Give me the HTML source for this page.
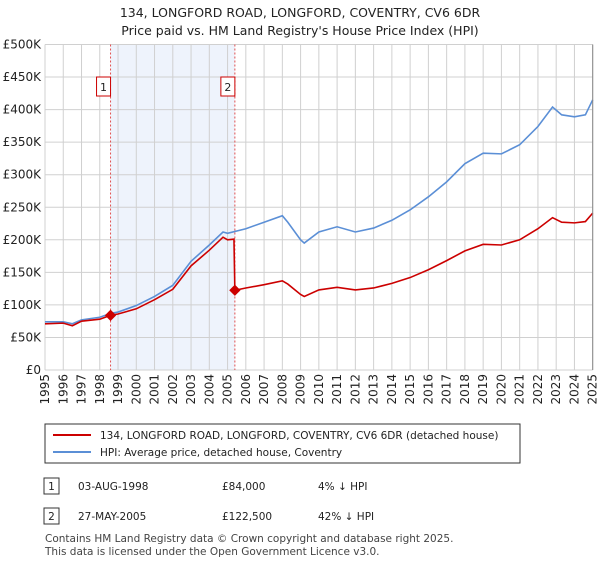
<!DOCTYPE html>
<html><head><meta charset="utf-8"><style>
body{margin:0;background:#fff;font-family:"Liberation Sans","DejaVu Sans",sans-serif;}
svg text{font-family:"DejaVu Sans","Liberation Sans",sans-serif;}
</style></head><body>
<svg id="chart" width="600" height="560" xmlns="http://www.w3.org/2000/svg">
<text x="300" y="17" text-anchor="middle" font-size="12.5" fill="#222">134, LONGFORD ROAD, LONGFORD, COVENTRY, CV6 6DR</text>
<text x="300" y="35" text-anchor="middle" font-size="12.5" fill="#222">Price paid vs. HM Land Registry's House Price Index (HPI)</text>
<g id="plot"></g>
<g>
<rect x="45" y="424" width="475" height="39" fill="#fff" stroke="#333" stroke-width="1"/>
<line x1="53" y1="435" x2="91" y2="435" stroke="#cc0000" stroke-width="2"/>
<text x="100" y="439" font-size="10.5" fill="#222">134, LONGFORD ROAD, LONGFORD, COVENTRY, CV6 6DR (detached house)</text>
<line x1="53" y1="452" x2="91" y2="452" stroke="#5b8fd6" stroke-width="2"/>
<text x="100" y="456" font-size="10.5" fill="#222">HPI: Average price, detached house, Coventry</text>
</g>
<g font-size="10.5" fill="#222">
<rect x="44" y="478" width="15" height="16" fill="#fff" stroke="#333"/>
<text x="51.5" y="490" text-anchor="middle">1</text>
<text x="78" y="490">03-AUG-1998</text><text x="222" y="490">£84,000</text><text x="318" y="490">4% ↓ HPI</text>
<rect x="44" y="508" width="15" height="16" fill="#fff" stroke="#333"/>
<text x="51.5" y="520" text-anchor="middle">2</text>
<text x="78" y="520">27-MAY-2005</text><text x="222" y="520">£122,500</text><text x="318" y="520">42% ↓ HPI</text>
</g>
<text x="45" y="542" font-size="10.5" fill="#444">Contains HM Land Registry data © Crown copyright and database right 2025.</text>
<text x="45" y="555" font-size="10.5" fill="#444">This data is licensed under the Open Government Licence v3.0.</text>
</svg>
<script>
const yTicks=[0,50000,100000,150000,200000,250000,300000,350000,400000,450000,500000];
const yTickLabels=["£0","£50K","£100K","£150K","£200K","£250K","£300K","£350K","£400K","£450K","£500K"];
const xYears=[1995,1996,1997,1998,1999,2000,2001,2002,2003,2004,2005,2006,2007,2008,2009,2010,2011,2012,2013,2014,2015,2016,2017,2018,2019,2020,2021,2022,2023,2024,2025];
const hpiDates=[1995,1996,1996.5,1997,1998,1998.6,1999,2000,2001,2002,2003,2004,2004.75,2005,2006,2007,2008,2008.3,2009,2009.2,2010,2011,2012,2013,2014,2015,2016,2017,2018,2019,2020,2021,2022,2022.8,2023.3,2024,2024.6,2025];
const hpiValues=[74000,74000,71000,77000,81000,87000,89000,99000,113000,130000,167000,192000,212000,210000,217000,227000,237000,227000,200000,195000,212000,220000,212000,218000,230000,246000,266000,289000,317000,333000,332000,346000,374000,404000,392000,389000,392000,415000];
const priceDates=[1995,1996,1996.5,1997,1998,1998.59,1999,2000,2001,2002,2003,2004,2004.75,2005,2005.35,2005.4,2006,2007,2008,2008.3,2009,2009.2,2010,2011,2012,2013,2014,2015,2016,2017,2018,2019,2020,2021,2022,2022.8,2023.3,2024,2024.6,2025];
const priceValues=[71000,72000,68000,75000,78000,84000,86000,94000,108000,124000,160000,184000,204000,200000,201000,122500,126000,131000,137000,132000,116000,113000,123000,127000,123000,126000,133000,142000,154000,168000,183000,193000,192000,200000,217000,234000,227000,226000,228000,241000];
const saleDates=[1998.59,2005.40];
const saleValues=[84000,122500];
const saleLabels=["1","2"];

const L=45,R=592.7,T=44.5,B=370;
const x=d=>L+(d-1995)/30*(R-L);
const y=v=>B-v/500000*(B-T);
const NS="http://www.w3.org/2000/svg";
const g=document.getElementById('plot');
function mk(tag,attrs){const e=document.createElementNS(NS,tag);for(const k in attrs)e.setAttribute(k,attrs[k]);g.appendChild(e);return e;}

let sh=mk('rect',{x:x(saleDates[0]),y:T,width:x(saleDates[1])-x(saleDates[0]),height:B-T,fill:'#eef3fc'});


yTicks.forEach((v,i)=>{
  let l=mk('line',{x1:L,x2:R,y1:y(v),y2:y(v),stroke:'#d0d0d0','stroke-width':1});
  
  
  let t=mk('text',{x:L-4,y:y(v)+4,'text-anchor':'end','font-size':12,fill:'#222'});
  t.textContent=yTickLabels[i];
  
  
});
xYears.forEach(yr=>{
  let l=mk('line',{x1:x(yr),x2:x(yr),y1:T,y2:B,stroke:'#d0d0d0','stroke-width':1});
  
  
  let t=mk('text',{x:0,y:0,'text-anchor':'end','font-size':12,fill:'#222',transform:`translate(${x(yr)+4},${B+4}) rotate(-90)`});
  t.textContent=yr;
  
  
});
saleDates.forEach((d,i)=>{
  let l=mk('line',{x1:x(d),x2:x(d),y1:T,y2:B,stroke:'#e05050','stroke-width':1,'stroke-dasharray':'2,2'});
  
  
  let r=mk('rect',{x:x(d)-14,y:77,width:14,height:19,fill:'#fff',stroke:'#cc0000'});
  
  
  let t=mk('text',{x:x(d)-7,y:91,'text-anchor':'middle','font-size':11,fill:'#222'});
  t.textContent=saleLabels[i];
  
  
});
let hp=mk('polyline',{points:hpiDates.map((d,i)=>x(d)+','+y(hpiValues[i])).join(' '),fill:'none',stroke:'#5b8fd6','stroke-width':1.6});


let pp=mk('polyline',{points:priceDates.map((d,i)=>x(d)+','+y(priceValues[i])).join(' '),fill:'none',stroke:'#cc0000','stroke-width':1.6});


saleDates.forEach((d,i)=>{
  let c=mk('rect',{x:x(d)-4,y:y(saleValues[i])-4,width:8,height:8,fill:'#cc0000',transform:`rotate(45 ${x(d)} ${y(saleValues[i])})`});
  
  
});
let ax=mk('line',{x1:R,x2:R,y1:T,y2:B,stroke:'#888','stroke-width':1});


</script>
</body></html>
